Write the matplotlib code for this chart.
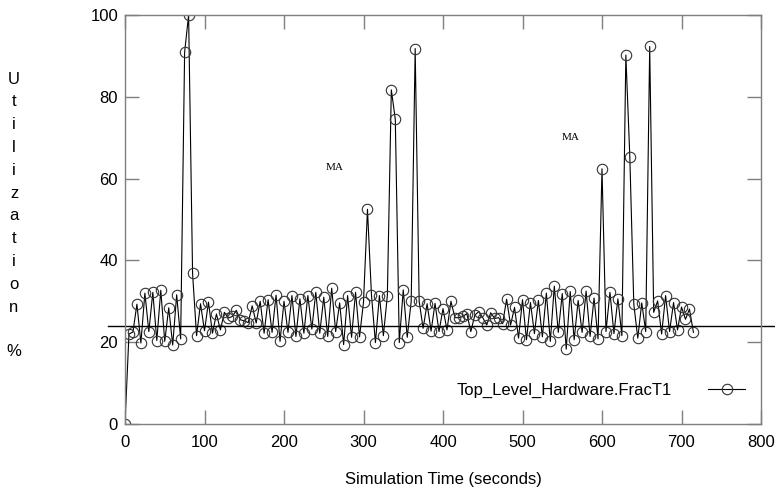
import matplotlib
matplotlib.use("Agg")
import matplotlib.pyplot as plt
import numpy as np

# ---------------- data ----------------
time_s = list(range(0, 720, 5))
utilization = [
    0.0, 22.0, 22.5, 29.3, 19.8, 32.0, 22.6, 32.2, 20.4, 32.7,
    20.2, 28.4, 19.3, 31.6, 20.8, 90.9, 100.0, 36.8, 21.6, 29.4,
    22.8, 29.8, 22.2, 26.9, 23.0, 27.3, 25.9, 26.3, 27.8, 25.5,
    25.2, 24.8, 28.9, 24.7, 30.0, 22.2, 30.4, 22.4, 31.5, 20.2,
    30.0, 22.4, 31.4, 21.4, 30.6, 22.2, 31.4, 23.2, 32.2, 22.2,
    31.0, 21.4, 33.2, 22.6, 29.6, 19.4, 31.4, 21.2, 32.2, 21.3,
    29.8, 52.5, 31.6, 19.9, 31.4, 21.6, 31.4, 81.7, 74.5, 19.9,
    32.8, 21.2, 30.0, 91.8, 30.0, 23.4, 29.4, 22.7, 29.5, 22.6,
    28.2, 23.0, 30.0, 26.0, 26.0, 26.3, 27.0, 22.6, 26.6, 27.5,
    26.0, 24.2, 27.2, 25.8, 26.0, 24.5, 30.5, 24.2, 28.5, 21.0,
    30.4, 20.6, 29.7, 22.1, 30.2, 21.3, 32.0, 20.2, 33.7, 22.4,
    31.9, 18.3, 32.4, 20.6, 30.2, 22.4, 32.5, 21.4, 30.8, 20.8,
    62.4, 22.6, 32.2, 22.1, 30.6, 21.6, 90.2, 65.3, 29.3, 21.0,
    29.6, 22.6, 92.3, 27.3, 30.1, 22.0, 31.4, 22.6, 29.7, 23.0,
    28.6, 25.6, 28.1, 22.4,
]
mean_level = 24.0
series_name = "Top_Level_Hardware.FracT1"
x_ticks = [0, 100, 200, 300, 400, 500, 600, 700, 800]
y_ticks = [0, 20, 40, 60, 80, 100]
annotations = [("MA", 264, 62.7), ("MA", 561, 70.0)]
x_label = "Simulation Time (seconds)"
y_label_chars = list("Utilization")

# ---------------- figure ----------------
W, H = 775, 494
fig = plt.figure(figsize=(W / 100, H / 100), dpi=100)
fig.patch.set_facecolor("white")
ax = fig.add_axes([125 / W, 1 - 424 / H, (761 - 125) / W, (424 - 15) / H])

sans = ["Liberation Sans", "DejaVu Sans"]
spine_col = "#7f7f7f"

line, = ax.plot(time_s, utilization, color="black", lw=0.8,
                marker="o", markersize=7.5, markerfacecolor="none",
                markeredgecolor="#333333", markeredgewidth=0.8,
                label=series_name)

ax.axhline(mean_level, xmin=(108 - 125) / 636, xmax=(775 - 125) / 636,
           color="black", lw=1.0, clip_on=False)

ax.set_xlim(0, 800)
ax.set_ylim(0, 100)
ax.set_xticks(x_ticks)
ax.set_yticks(y_ticks)
ax.set_xticklabels([str(v) for v in x_ticks], fontfamily=sans, fontsize=12)
ax.set_yticklabels([str(v) for v in y_ticks], fontfamily=sans, fontsize=12)
ax.tick_params(axis="x", direction="in", length=10, width=1, color=spine_col,
               top=True, pad=8)
ax.tick_params(axis="y", direction="in", length=10, width=1, color=spine_col,
               right=True, pad=5)
for s in ax.spines.values():
    s.set_color(spine_col)
    s.set_linewidth(1.0)

for txt, xv, yv in annotations:
    ax.text(xv, yv, txt, fontsize=8, family=["Liberation Serif", "DejaVu Serif"],
            ha="center", va="center")

fig.text(443 / W, 1 - 479 / H, x_label, fontfamily=sans, fontsize=12,
         ha="center", va="center")

y0 = 79
for i, ch in enumerate(y_label_chars):
    fig.text(14 / W, 1 - (y0 + i * 22.8) / H, ch, fontfamily=sans, fontsize=12,
             ha="center", va="center")
fig.text(14 / W, 1 - 352 / H, "%", fontfamily=sans, fontsize=12,
         ha="center", va="center")

leg = ax.legend(handles=[line], loc="center right",
                bbox_to_anchor=(745 / W, 1 - 390 / H),
                bbox_transform=fig.transFigure, frameon=False,
                markerfirst=False, numpoints=1, handlelength=2.2,
                handletextpad=2.2, borderpad=0, borderaxespad=0,
                prop={"family": sans, "size": 12})

fig.savefig("out.png", dpi=100, facecolor="white")
